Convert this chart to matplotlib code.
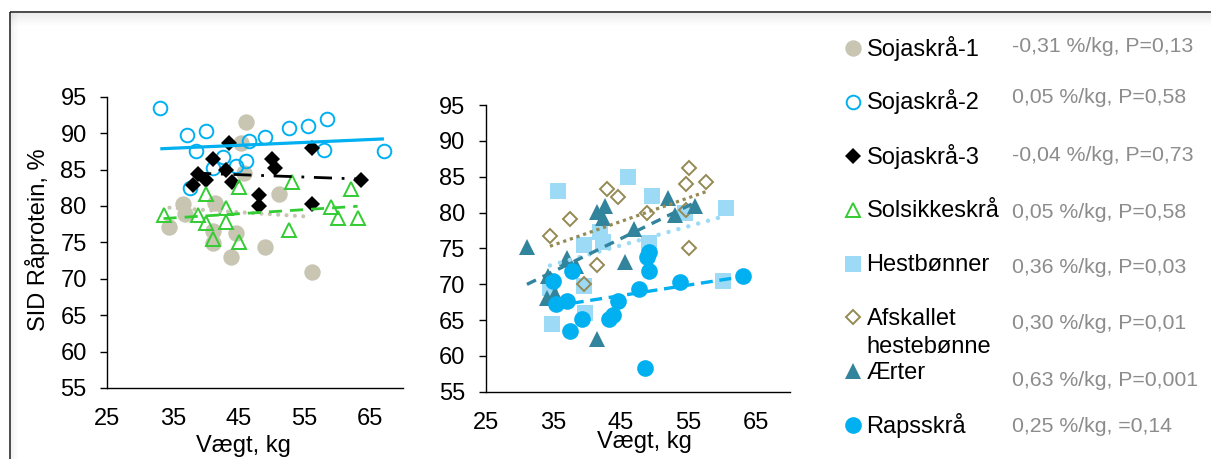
import numpy as np
import matplotlib
matplotlib.use("Agg")
import matplotlib.pyplot as plt
from matplotlib.patches import Rectangle

plt.rcParams['font.family'] = ['Liberation Sans', 'DejaVu Sans']

# ---------------- data ----------------
# left panel: soybean meals and sunflower meal
soja1_x = [46.2, 45.4, 45.9, 36.5, 41.4, 34.5, 36.8, 41.1, 41.1, 44.6, 43.9, 49.0, 51.1, 56.1]
soja1_y = [91.5, 88.6, 84.5, 80.3, 80.4, 77.1, 78.9, 76.5, 74.9, 76.3, 73.0, 74.4, 81.7, 70.9]

soja2_x = [33.1, 37.1, 40.1, 38.6, 37.6, 41.1, 42.6, 44.6, 46.2, 46.6, 49.0, 52.6, 55.5, 58.5, 58.0, 67.1]
soja2_y = [93.5, 89.7, 90.3, 87.6, 82.4, 85.2, 86.7, 85.5, 86.2, 88.9, 89.5, 90.7, 91.0, 91.9, 87.7, 87.5]

soja3_x = [38.9, 38.1, 40.1, 41.1, 43.1, 43.5, 44.0, 48.1, 48.1, 50.1, 50.6, 56.1, 56.1, 63.6]
soja3_y = [84.4, 82.9, 83.6, 86.4, 85.0, 88.6, 83.3, 81.5, 80.0, 86.4, 85.2, 87.9, 80.3, 83.6]

sol_x = [33.6, 38.9, 40.0, 40.1, 41.1, 43.1, 43.1, 45.1, 45.1, 52.6, 53.1, 59.0, 60.1, 62.1, 63.1]
sol_y = [78.8, 78.8, 81.7, 77.6, 75.4, 79.7, 77.8, 82.6, 75.1, 76.7, 83.3, 79.8, 78.4, 82.3, 78.4]

# right panel: beans, peas and rapeseed meal
hest_x = [35.65, 46.0, 49.6, 60.6, 41.9, 42.4, 39.6, 49.1, 54.5, 34.5, 39.5, 39.7, 34.8, 60.1]
hest_y = [83.0, 85.0, 82.3, 80.6, 77.3, 75.9, 75.5, 75.8, 79.9, 69.4, 69.7, 66.0, 64.4, 70.4]

afsk_x = [34.5, 37.5, 43.0, 44.5, 48.9, 55.0, 54.6, 57.6, 55.0, 41.4, 39.5, 54.6]
afsk_y = [76.7, 79.1, 83.3, 82.1, 80.0, 86.2, 84.0, 84.3, 75.0, 72.7, 70.0, 80.3]

aert_x = [31.1, 34.2, 34.1, 35.3, 37.0, 38.4, 41.4, 42.6, 42.3, 41.4, 45.6, 47.0, 52.0, 53.0, 56.0]
aert_y = [75.2, 71.2, 68.1, 68.7, 73.6, 72.6, 80.1, 80.9, 79.3, 62.4, 73.1, 77.7, 82.0, 79.6, 80.9]

raps_x = [35.0, 35.4, 37.0, 37.7, 37.4, 39.3, 43.2, 43.8, 44.6, 47.6, 49.1, 48.9, 49.1, 48.6, 53.7, 63.1]
raps_y = [70.4, 67.3, 67.6, 71.9, 63.4, 65.2, 65.2, 65.7, 67.7, 69.3, 74.5, 73.8, 71.9, 58.3, 70.3, 71.1]

labels = ["Sojaskrå-1", "Sojaskrå-2", "Sojaskrå-3", "Solsikkeskrå",
          "Hestbønner", "Afskallet\nhestebønne", "Ærter", "Rapsskrå"]
stats = ["-0,31 %/kg, P=0,13", "0,05 %/kg, P=0,58", "-0,04 %/kg, P=0,73",
         "0,05 %/kg, P=0,58", "0,36 %/kg, P=0,03", "0,30 %/kg, P=0,01",
         "0,63 %/kg, P=0,001", "0,25 %/kg, =0,14"]

xticks = [25, 35, 45, 55, 65]
yticks = [55, 60, 65, 70, 75, 80, 85, 90, 95]

# ---------------- styles ----------------
# marker style and trend line style for each series
series_style = [
    dict(marker='o', ms=11.8, mfc='#C8C5B2', mec='#C8C5B2', mew=0,
         lc='#C8C5B2', ls=(0, (0.01, 2.0)), lw=3.0, cap='round'),
    dict(marker='o', ms=9.8, mfc='none', mec='#00B0F0', mew=1.4,
         lc='#00B0F0', ls='-', lw=2.3, cap='butt'),
    dict(marker='D', ms=8.5, mfc='black', mec='black', mew=0,
         lc='black', ls=(0, (6.5, 3.5, 1.0, 3.5)), lw=2.0, cap='butt'),
    dict(marker='^', ms=10.5, mfc='none', mec='#33CC33', mew=1.4,
         lc='#33CC33', ls=(0, (4.7, 2.9)), lw=2.0, cap='butt'),
    dict(marker='s', ms=11.8, mfc='#9DDAF6', mec='#9DDAF6', mew=0,
         lc='#9DDAF6', ls=(0, (0.01, 2.3)), lw=3.2, cap='round'),
    dict(marker='D', ms=7.3, mfc='none', mec='#948A54', mew=1.4,
         lc='#948A54', ls=(0, (1.0, 1.2)), lw=2.3, cap='butt'),
    dict(marker='^', ms=11.8, mfc='#31849B', mec='#31849B', mew=0,
         lc='#31849B', ls=(0, (3.0, 2.2)), lw=2.4, cap='butt'),
    dict(marker='o', ms=12.0, mfc='#00B0F0', mec='#00B0F0', mew=0,
         lc='#00B0F0', ls=(0, (3.6, 2.0)), lw=2.4, cap='butt'),
]

W, H = 1211, 459
fig = plt.figure(figsize=(W / 100, H / 100), dpi=100)


def px_axes(x0, y0, x1, y1):
    """Add axes from pixel box (left, top, right, bottom)."""
    return fig.add_axes([x0 / W, 1 - y1 / H, (x1 - x0) / W, (y1 - y0) / H])


ax_l = px_axes(107, 96.7, 403, 388)
ax_r = px_axes(485.7, 105, 790, 391.7)

left_series = [(soja1_x, soja1_y), (soja2_x, soja2_y), (soja3_x, soja3_y), (sol_x, sol_y)]
right_series = [(hest_x, hest_y), (afsk_x, afsk_y), (aert_x, aert_y), (raps_x, raps_y)]


def draw_panel(ax, series, styles):
    for (x, y), st in zip(series, styles):
        ax.plot(x, y, linestyle='none', marker=st['marker'], ms=st['ms'],
                mfc=st['mfc'], mec=st['mec'], mew=st['mew'], zorder=3)
    # linear trend lines over each series' weight range
    for (x, y), st in zip(series, styles):
        xa = np.asarray(x, float)
        b, a = np.polyfit(xa, np.asarray(y, float), 1)
        xs = np.array([xa.min(), xa.max()])
        ln, = ax.plot(xs, a + b * xs, color=st['lc'], lw=st['lw'], zorder=4)
        ln.set_linestyle(st['ls'])
        ln.set_dash_capstyle(st['cap'])
        ln.set_solid_capstyle(st['cap'])

    ax.set_xlim(25, 70)
    ax.set_ylim(55, 95)
    ax.set_xticks(xticks)
    ax.set_yticks(yticks)
    for s in ('top', 'right'):
        ax.spines[s].set_visible(False)
    for s in ('left', 'bottom'):
        ax.spines[s].set_linewidth(1.0)
        ax.spines[s].set_color('black')
    ax.tick_params(axis='y', direction='out', length=5.2, width=1.0,
                   pad=9.4, labelsize=17, colors='black')
    ax.tick_params(axis='x', length=0, pad=14.5, labelsize=17, colors='black')
    ax.set_xlabel("Vægt, kg", fontsize=17)
    ax.xaxis.label.set_verticalalignment('baseline')


draw_panel(ax_l, left_series, series_style[:4])
draw_panel(ax_r, right_series, series_style[4:])
ax_l.xaxis.set_label_coords((243.5 - 107) / 296, (388 - 451.7) / 291.3)
ax_r.xaxis.set_label_coords((644.5 - 485.7) / 304.3, (391.7 - 448.5) / 286.7)

fig.text(38 / W, 1 - 240 / H, "SID Råprotein, %", rotation=90,
         ha='center', va='center', fontsize=17)

# ---------------- overlay in pixel units: legend and frame ----------------
ov = fig.add_axes([0, 0, 1, 1], facecolor='none')
ov.set_xlim(0, W)
ov.set_ylim(H, 0)
ov.axis('off')

# frame around the chart area
ov.add_patch(Rectangle((10, 12), 1400, 600, fill=False, ec='#1a1a1a', lw=1.1,
                       clip_on=False, zorder=1))
for k in range(1, 14):
    a = 0.07 * (1 - k / 14)
    ov.plot([11, W], [12 + k, 12 + k], color='black', alpha=a, lw=0.8, zorder=0)
for k in range(1, 8):
    a = 0.05 * (1 - k / 8)
    ov.plot([10 + k, 10 + k], [13, H], color='black', alpha=a, lw=0.8, zorder=0)

marker_y = [48.3 + 53.8 * i for i in range(8)]
label_base = [56.0, 109.3, 164.0, 217.3, 270.7, 325.0, 379.3, 433.3]
stat_base = [51.7, 103.3, 160.7, 218.3, 273.3, 329.3, 385.7, 431.7]

for i, st in enumerate(series_style):
    ov.plot([853], [marker_y[i]], linestyle='none', marker=st['marker'],
            ms=st['ms'], mfc=st['mfc'], mec=st['mec'], mew=st['mew'],
            clip_on=False)
    lines = labels[i].split("\n")
    for j, t in enumerate(lines):
        ov.text(866.5, label_base[i] + 27.7 * j, t, fontsize=17,
                ha='left', va='baseline', color='black')
    ov.text(1012.5, stat_base[i], stats[i], fontsize=15.3, ha='left',
            va='baseline', color='#8C8C8C')

fig.savefig("out.png", dpi=100, facecolor='white')
